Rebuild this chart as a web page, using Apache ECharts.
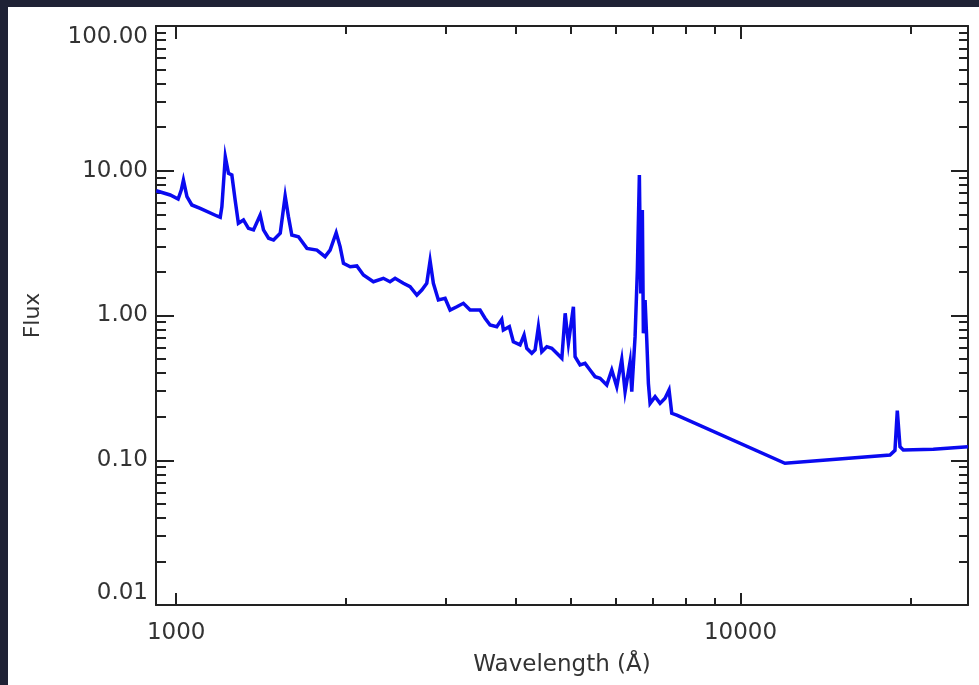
<!DOCTYPE html>
<html>
<head>
<meta charset="utf-8">
<script src="https://cdn.jsdelivr.net/npm/echarts@6/dist/echarts.min.js"></script>
<style>
  html, body { margin: 0; padding: 0; background: #1f2235; width: 979px; height: 685px; overflow: hidden; }
  #chart { position: absolute; left: 8px; top: 7px; width: 971px; height: 678px; background: #ffffff; }
</style>
</head>
<body>
<div id="chart"></div>
<script>
// ---- data ----
const wavelength = [922, 976, 1008, 1021, 1030, 1045, 1066, 1103, 1181, 1197, 1205, 1222, 1238, 1255, 1272, 1289, 1316, 1343, 1371, 1409,
  1428, 1458, 1488, 1529, 1560, 1581, 1603, 1647, 1705, 1776, 1836, 1874, 1921, 1952, 1979, 2034, 2090, 2147, 2236, 2329,
  2393, 2443, 2527, 2597, 2670, 2724, 2780, 2818, 2856, 2915, 2996, 3058, 3143, 3228, 3318, 3455, 3526, 3599, 3699, 3775,
  3800, 3894, 3958, 4068, 4135, 4181, 4267, 4325, 4384, 4445, 4537, 4630, 4726, 4824, 4890, 4955, 5057, 5092, 5196, 5303,
  5412, 5524, 5638, 5794, 5914, 6036, 6160, 6244, 6373, 6417, 6504, 6565, 6619, 6657, 6700, 6728, 6775, 6822, 6867, 6915,
  7057, 7202, 7350, 7471, 7554, 7710, 11989, 18404, 18780, 18960, 19170, 19430, 21960, 25300];
const flux = [7.28, 6.80, 6.38, 7.36, 8.63, 6.62, 5.80, 5.50, 4.87, 4.77, 5.64, 12.5, 9.60, 9.35, 6.28, 4.34, 4.57, 4.00, 3.90, 4.95,
  3.90, 3.42, 3.32, 3.70, 6.69, 4.82, 3.60, 3.50, 2.91, 2.83, 2.55, 2.83, 3.73, 2.99, 2.29, 2.17, 2.20, 1.905, 1.712, 1.807,
  1.712, 1.807, 1.669, 1.581, 1.385, 1.500, 1.669, 2.39, 1.669, 1.280, 1.315, 1.091, 1.150, 1.214, 1.091, 1.091, 0.957, 0.860, 0.837, 0.941,
  0.794, 0.837, 0.659, 0.626, 0.733, 0.593, 0.548, 0.578, 0.837, 0.562, 0.609, 0.593, 0.548, 0.506, 1.036, 0.642, 1.150, 0.519, 0.455, 0.467,
  0.420, 0.378, 0.368, 0.331, 0.420, 0.322, 0.498, 0.298, 0.479, 0.298, 0.714, 2.06, 9.35, 1.42, 5.36, 0.753, 1.28, 0.677, 0.340, 0.247,
  0.275, 0.247, 0.268, 0.306, 0.211, 0.205, 0.0953, 0.1087, 0.117, 0.220, 0.124, 0.1177, 0.119, 0.124];

const xRange = [921, 25300];
const yRange = [0.01, 100];
const xMajorTicks = [1000, 10000];
const xMinorTicks = [2000, 3000, 4000, 5000, 6000, 7000, 8000, 9000, 20000];
const yMajorTicks = [0.01, 0.1, 1, 10, 100];
const yMinorTicks = [0.02, 0.03, 0.04, 0.05, 0.06, 0.07, 0.08, 0.09,
  0.2, 0.3, 0.4, 0.5, 0.6, 0.7, 0.8, 0.9,
  2, 3, 4, 5, 6, 7, 8, 9,
  20, 30, 40, 50, 60, 70, 80, 90];
const xTitle = 'Wavelength (Å)';
const yTitle = 'Flux';

// ---- chart ----
const AX = '#222222';
const TXT = '#333333';
const FONT = 'DejaVu Sans';

function xAx(position, ticks, len, showLine, showLabel) {
  return {
    type: 'log', logBase: 10, min: xRange[0], max: xRange[1], position: position,
    axisLine: { show: showLine, onZero: false, lineStyle: { color: AX, width: 2 } },
    axisTick: { show: true, inside: true, length: len, customValues: ticks, lineStyle: { color: AX, width: 2 } },
    axisLabel: showLabel ? {
      show: true, customValues: xMajorTicks, margin: 17, color: TXT, fontFamily: FONT, fontSize: 23,
      formatter: v => String(Math.round(v))
    } : { show: false },
    splitLine: { show: false }, minorTick: { show: false }
  };
}
function yAx(position, ticks, len, showLine, showLabel) {
  return {
    type: 'log', logBase: 10, min: yRange[0], max: yRange[1], position: position,
    axisLine: { show: showLine, onZero: false, lineStyle: { color: AX, width: 2 } },
    axisTick: { show: true, inside: true, length: len, customValues: ticks, lineStyle: { color: AX, width: 2 } },
    axisLabel: showLabel ? {
      show: true, customValues: yMajorTicks, margin: 8, color: TXT, fontFamily: FONT, fontSize: 23,
      verticalAlignMinLabel: 'bottom', verticalAlignMaxLabel: 'top',
      formatter: v => Number(v).toFixed(2)
    } : { show: false },
    splitLine: { show: false }, minorTick: { show: false }
  };
}

const xAxes = [
  xAx('bottom', xMajorTicks, 12, true, true),
  xAx('bottom', xMinorTicks, 7, false, false),
  xAx('top', xMajorTicks, 13, true, false),
  xAx('top', xMinorTicks, 8, false, false)
];
Object.assign(xAxes[0], {
  name: xTitle, nameLocation: 'middle', nameGap: 49,
  nameTextStyle: { color: TXT, fontFamily: FONT, fontSize: 23 }
});
const yAxes = [
  yAx('left', yMajorTicks, 18, true, true),
  yAx('left', yMinorTicks, 10, false, false),
  yAx('right', yMajorTicks, 17, true, false),
  yAx('right', yMinorTicks, 9, false, false)
];
Object.assign(yAxes[0], {
  name: yTitle, nameLocation: 'middle', nameGap: 112, nameRotate: 90,
  nameTextStyle: { color: TXT, fontFamily: FONT, fontSize: 22 }
});

const chart = echarts.init(document.getElementById('chart'), null, { renderer: 'canvas' });
chart.setOption({
  animation: false,
  backgroundColor: '#ffffff',
  grid: { left: 148, right: 11, top: 19, bottom: 80, containLabel: false },
  xAxis: xAxes,
  yAxis: yAxes,
  series: [{
    type: 'line', xAxisIndex: 0, yAxisIndex: 0,
    data: wavelength.map((w, i) => [w, flux[i]]),
    showSymbol: false, symbol: 'none',
    lineStyle: { color: '#0a0af0', width: 3.5, join: 'miter' },
    clip: true
  }]
});
</script>
</body>
</html>
